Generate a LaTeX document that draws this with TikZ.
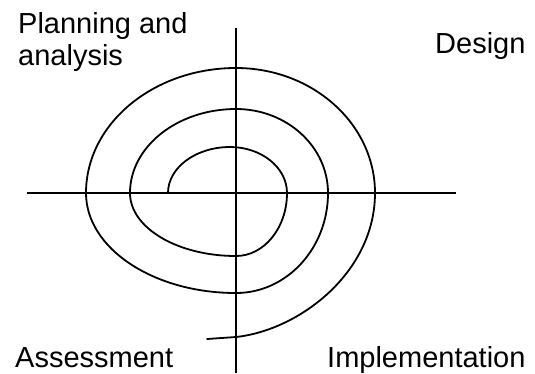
\documentclass[tikz,border=0pt]{standalone}
\usepackage{fontspec}
\setmainfont{Liberation Sans}
\begin{document}
\begin{tikzpicture}[x=1pt,y=-1pt,
  lbl/.style={anchor=base west,inner sep=0pt,font=\fontsize{29}{32}\selectfont},
  axis/.style={line width=1.3pt},
  spiralline/.style={line width=1.8pt,line cap=round}]
\useasboundingbox (0,0) rectangle (535,373);
% axes
\coordinate (hl) at (27,193);
\coordinate (hr) at (456,193);
\coordinate (vt) at (236,28);
\coordinate (vb) at (236,373);
\draw[axis] (hl) -- (hr);
\draw[axis] (vt) -- (vb);
% spiral
\coordinate (s0) at (168,193);
\coordinate (t1) at (230,147);
\coordinate (r1) at (287,193);
\coordinate (b1) at (236,256);
\coordinate (l1) at (130,193);
\coordinate (t2) at (236,109);
\coordinate (r2) at (328,193);
\coordinate (b2) at (236,293);
\coordinate (l2) at (86,193);
\coordinate (t3) at (236,68);
\coordinate (r3) at (375,193);
\coordinate (x3) at (236,337);
\coordinate (e3) at (207,339);
\draw[spiralline] (s0)
  .. controls (168,167.6) and (195.8,147) .. (t1)
  .. controls (261.5,147) and (287,167.6) .. (r1)
  .. controls (287,227.8) and (264.2,256) .. (b1)
  .. controls (177.5,256) and (130,227.8) .. (l1)
  .. controls (130,146.6) and (177.5,109) .. (t2)
  .. controls (286.8,109) and (328,146.6) .. (r2)
  .. controls (328,248.2) and (286.8,293) .. (b2)
  .. controls (153.2,293) and (86,248.2) .. (l2)
  .. controls (86,124) and (153.2,68) .. (t3)
  .. controls (312.7,68) and (375,124) .. (r3)
  .. controls (375,272) and (300,330) .. (x3)
  .. controls (222,338.5) .. (e3);
% labels
\node[lbl] (plan) at (18,33) {Planning and};
\node[lbl] (anal) at (18,65) {analysis};
\node[lbl] (design) at (435,53) {Design};
\node[lbl] (assess) at (15,367) {Assessment};
\node[lbl] (impl) at (327,367) {Implementation};
\end{tikzpicture}
\end{document}
